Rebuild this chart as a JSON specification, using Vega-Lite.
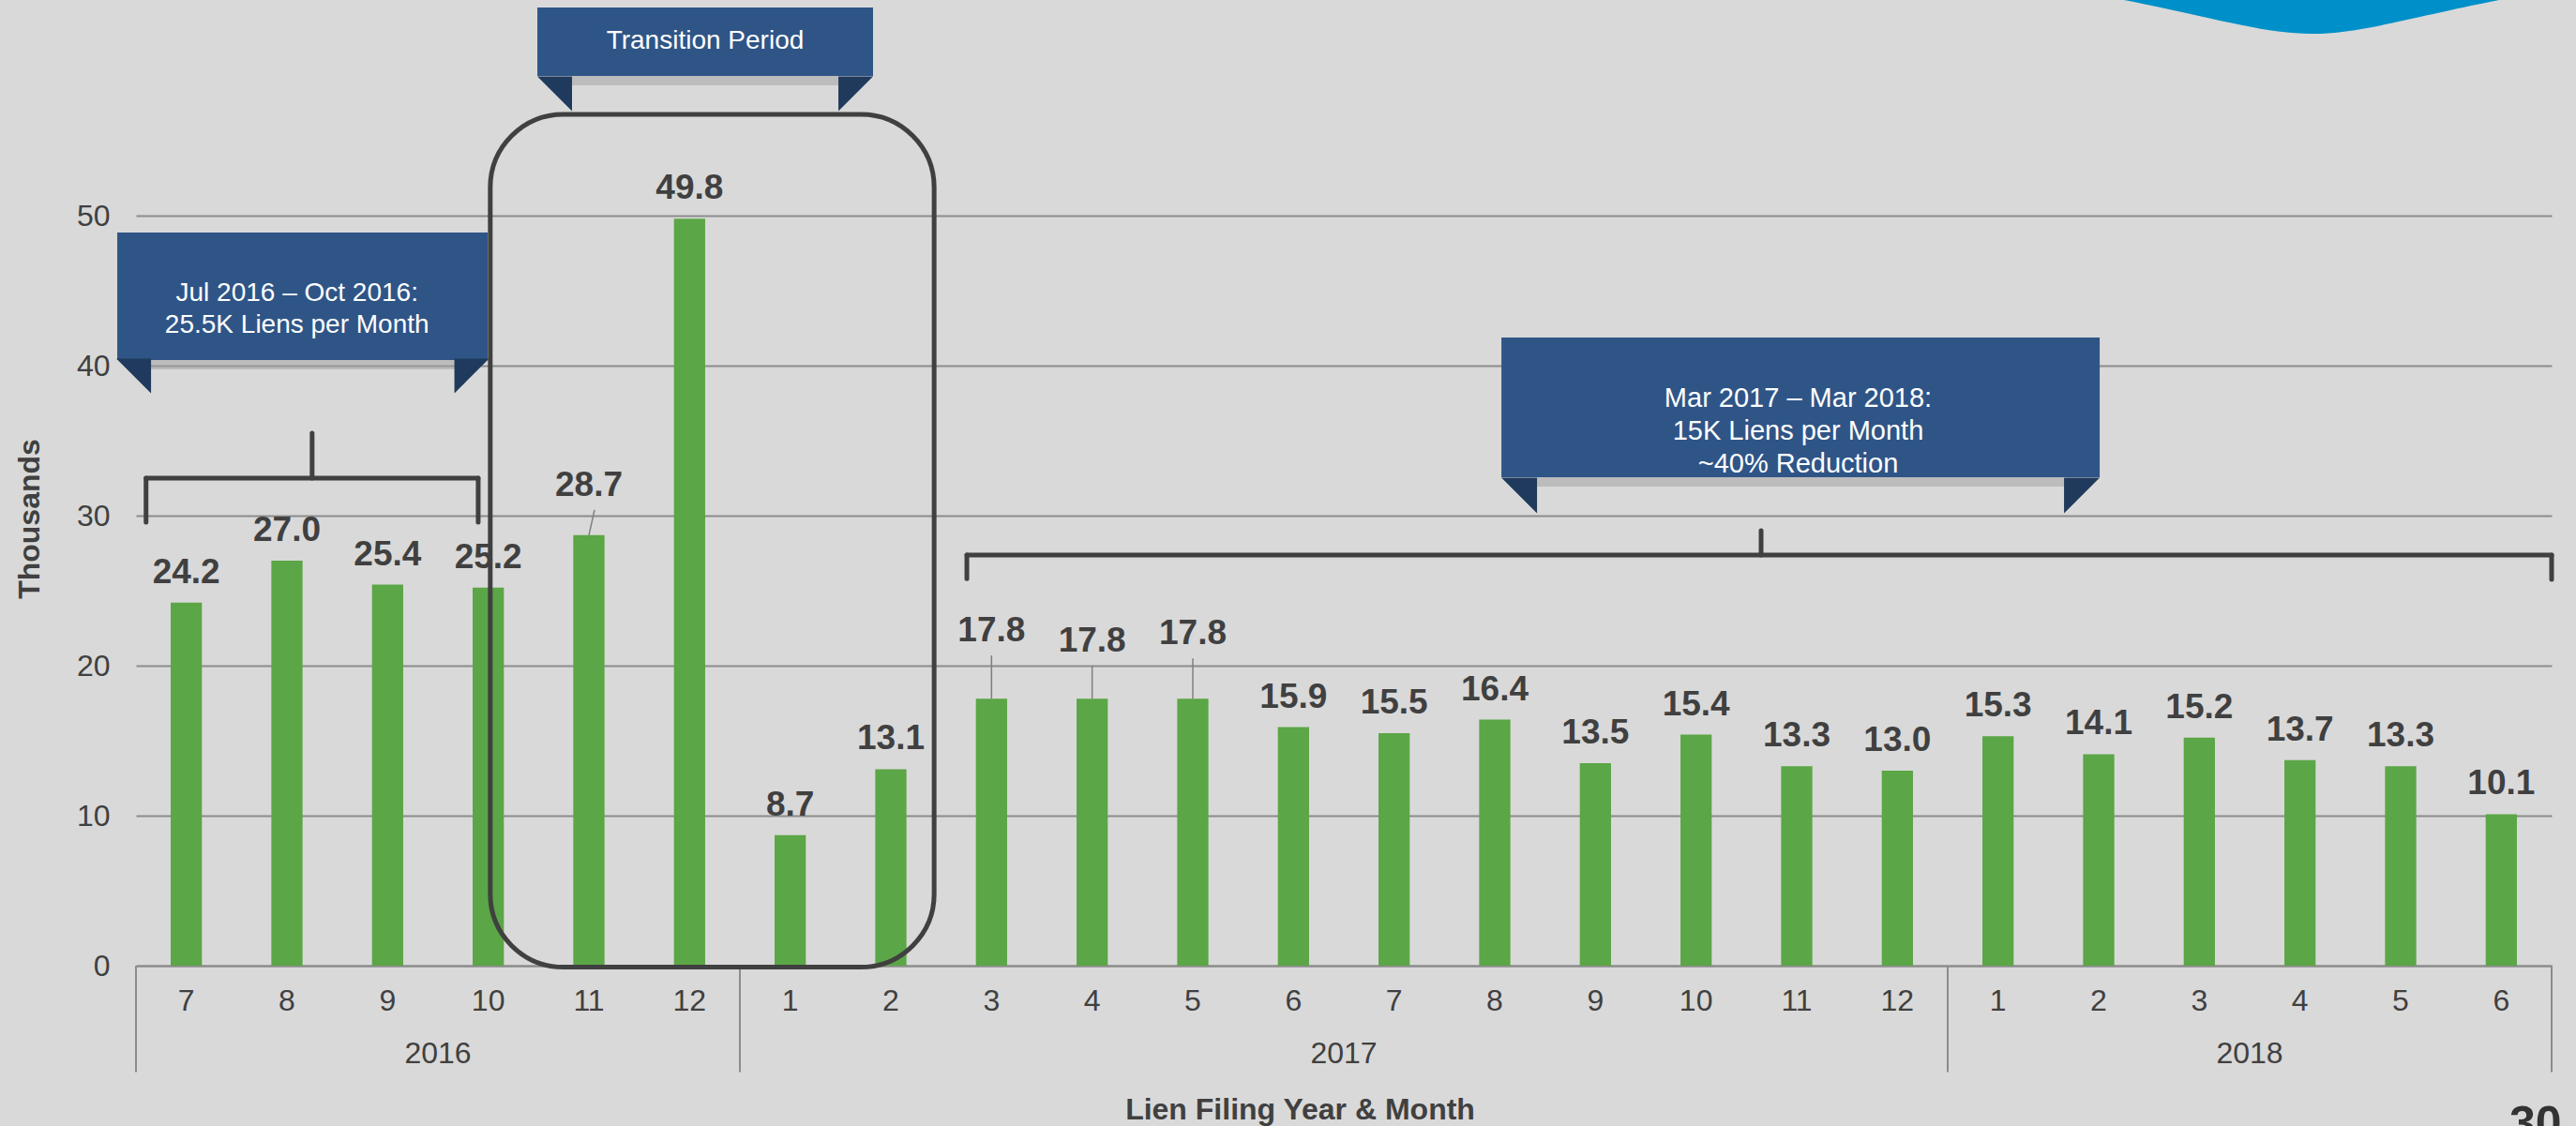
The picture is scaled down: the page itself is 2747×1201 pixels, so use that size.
{
  "$schema": "https://vega.github.io/schema/vega-lite/v6.json",
  "width": 2576,
  "height": 1000,
  "autosize": {"type": "none"},
  "padding": {"left": 145, "top": 30, "right": 26, "bottom": 171},
  "background": "#D9D9D9",
  "config": {"view": {"stroke": null}, "font": "Liberation Sans"},
  "datasets": {
    "liens": [
      {"key": "2016-07", "year": "2016", "month": 7, "value": 24.2},
      {"key": "2016-08", "year": "2016", "month": 8, "value": 27.0},
      {"key": "2016-09", "year": "2016", "month": 9, "value": 25.4},
      {"key": "2016-10", "year": "2016", "month": 10, "value": 25.2},
      {"key": "2016-11", "year": "2016", "month": 11, "value": 28.7},
      {"key": "2016-12", "year": "2016", "month": 12, "value": 49.8},
      {"key": "2017-01", "year": "2017", "month": 1, "value": 8.7},
      {"key": "2017-02", "year": "2017", "month": 2, "value": 13.1},
      {"key": "2017-03", "year": "2017", "month": 3, "value": 17.8},
      {"key": "2017-04", "year": "2017", "month": 4, "value": 17.8},
      {"key": "2017-05", "year": "2017", "month": 5, "value": 17.8},
      {"key": "2017-06", "year": "2017", "month": 6, "value": 15.9},
      {"key": "2017-07", "year": "2017", "month": 7, "value": 15.5},
      {"key": "2017-08", "year": "2017", "month": 8, "value": 16.4},
      {"key": "2017-09", "year": "2017", "month": 9, "value": 13.5},
      {"key": "2017-10", "year": "2017", "month": 10, "value": 15.4},
      {"key": "2017-11", "year": "2017", "month": 11, "value": 13.3},
      {"key": "2017-12", "year": "2017", "month": 12, "value": 13.0},
      {"key": "2018-01", "year": "2018", "month": 1, "value": 15.3},
      {"key": "2018-02", "year": "2018", "month": 2, "value": 14.1},
      {"key": "2018-03", "year": "2018", "month": 3, "value": 15.2},
      {"key": "2018-04", "year": "2018", "month": 4, "value": 13.7},
      {"key": "2018-05", "year": "2018", "month": 5, "value": 13.3},
      {"key": "2018-06", "year": "2018", "month": 6, "value": 10.1}
    ],
    "years": [
      {"year": "2016", "first": "2016-07", "mid": "2016-10"},
      {"year": "2017", "first": "2017-01", "mid": "2017-07"},
      {"year": "2018", "first": "2018-01", "mid": "2018-04"}
    ],
    "one": [{"n": 1}]
  },
  "data": {"name": "liens"},
  "layer": [
    {
      "mark": {"type": "bar", "color": "#5BA646", "width": {"band": 0.31}},
      "encoding": {
        "x": {
          "field": "key", "type": "nominal", "title": "Lien Filing Year & Month",
          "scale": {"type": "band", "paddingInner": 0, "paddingOuter": 0,
            "domain": ["2016-07","2016-08","2016-09","2016-10","2016-11","2016-12","2017-01","2017-02","2017-03","2017-04","2017-05","2017-06","2017-07","2017-08","2017-09","2017-10","2017-11","2017-12","2018-01","2018-02","2018-03","2018-04","2018-05","2018-06"]},
          "axis": {
            "labelExpr": "'' + toNumber(substring(datum.value, 5))",
            "labelAngle": 0, "labelFontSize": 32, "labelColor": "#404040", "labelPadding": 22,
            "ticks": false, "domainColor": "#8C8C8C", "domainWidth": 2, "grid": false,
            "titleFontSize": 32, "titleFontWeight": "bold", "titleColor": "#404040",
            "titleX": 1241, "titleY": 163, "titleBaseline": "alphabetic", "titleAlign": "center"
          }
        },
        "y": {
          "field": "value", "type": "quantitative", "title": "Thousands",
          "scale": {"domain": [0, 62.5], "nice": false},
          "axis": {
            "values": [0, 10, 20, 30, 40, 50], "domain": false, "ticks": false,
            "grid": true, "gridColor": "#8C8C8C", "gridWidth": 2,
            "labelFontSize": 32, "labelColor": "#404040", "labelPadding": 28,
            "titleFontSize": 32, "titleFontWeight": "bold", "titleColor": "#404040",
            "titleX": -114, "titleY": 523, "titleAngle": -90, "titleAlign": "center", "titleBaseline": "middle"
          }
        }
      }
    },
    {
      "transform": [{"filter": "datum.key === '2016-11'"}],
      "mark": {"type": "rule", "color": "#7F7F7F", "strokeWidth": 1.5, "y2Offset": -27, "x2Offset": 6},
      "encoding": {
        "x": {"field": "key", "type": "nominal"},
        "x2": {"field": "key", "bandPosition": 0.5},
        "y": {"field": "value", "type": "quantitative"},
        "y2": {"field": "value"}
      }
    },
    {
      "transform": [{"filter": "datum.key === '2017-03'"}],
      "mark": {"type": "rule", "color": "#7F7F7F", "strokeWidth": 1.5, "y2Offset": -46},
      "encoding": {"x": {"field": "key", "type": "nominal"}, "y": {"field": "value", "type": "quantitative"}, "y2": {"field": "value"}}
    },
    {
      "transform": [{"filter": "datum.key === '2017-04'"}],
      "mark": {"type": "rule", "color": "#7F7F7F", "strokeWidth": 1.5, "y2Offset": -35},
      "encoding": {"x": {"field": "key", "type": "nominal"}, "y": {"field": "value", "type": "quantitative"}, "y2": {"field": "value"}}
    },
    {
      "transform": [{"filter": "datum.key === '2017-05'"}],
      "mark": {"type": "rule", "color": "#7F7F7F", "strokeWidth": 1.5, "y2Offset": -43},
      "encoding": {"x": {"field": "key", "type": "nominal"}, "y": {"field": "value", "type": "quantitative"}, "y2": {"field": "value"}}
    },
    {
      "transform": [{"filter": "indexof(['2016-11','2017-03','2017-04','2017-05'], datum.key) < 0"}],
      "mark": {"type": "text", "dy": -32, "baseline": "middle", "fontSize": 37, "fontWeight": "bold", "color": "#404040"},
      "encoding": {"x": {"field": "key", "type": "nominal"}, "y": {"field": "value", "type": "quantitative"}, "text": {"field": "value", "type": "quantitative", "format": ".1f"}}
    },
    {
      "transform": [{"filter": "datum.key === '2016-11'"}],
      "mark": {"type": "text", "dy": -52.5, "baseline": "middle", "fontSize": 37, "fontWeight": "bold", "color": "#404040"},
      "encoding": {"x": {"field": "key", "type": "nominal"}, "y": {"field": "value", "type": "quantitative"}, "text": {"field": "value", "type": "quantitative", "format": ".1f"}}
    },
    {
      "transform": [{"filter": "datum.key === '2017-03'"}],
      "mark": {"type": "text", "dy": -72, "baseline": "middle", "fontSize": 37, "fontWeight": "bold", "color": "#404040"},
      "encoding": {"x": {"field": "key", "type": "nominal"}, "y": {"field": "value", "type": "quantitative"}, "text": {"field": "value", "type": "quantitative", "format": ".1f"}}
    },
    {
      "transform": [{"filter": "datum.key === '2017-04'"}],
      "mark": {"type": "text", "dy": -61.5, "baseline": "middle", "fontSize": 37, "fontWeight": "bold", "color": "#404040"},
      "encoding": {"x": {"field": "key", "type": "nominal"}, "y": {"field": "value", "type": "quantitative"}, "text": {"field": "value", "type": "quantitative", "format": ".1f"}}
    },
    {
      "transform": [{"filter": "datum.key === '2017-05'"}],
      "mark": {"type": "text", "dy": -69, "baseline": "middle", "fontSize": 37, "fontWeight": "bold", "color": "#404040"},
      "encoding": {"x": {"field": "key", "type": "nominal"}, "y": {"field": "value", "type": "quantitative"}, "text": {"field": "value", "type": "quantitative", "format": ".1f"}}
    },
    {
      "data": {"name": "years"},
      "mark": {"type": "rule", "color": "#8C8C8C", "strokeWidth": 2},
      "encoding": {"x": {"field": "first", "type": "nominal", "bandPosition": 0}, "y": {"datum": 0, "type": "quantitative"}, "y2": {"datum": -7.1}}
    },
    {
      "data": {"name": "one"},
      "mark": {"type": "rule", "color": "#8C8C8C", "strokeWidth": 2},
      "encoding": {"x": {"datum": "2018-06", "type": "nominal", "bandPosition": 1}, "y": {"datum": 0, "type": "quantitative"}, "y2": {"datum": -7.1}}
    },
    {
      "data": {"name": "years"},
      "mark": {"type": "text", "fontSize": 32, "color": "#404040", "baseline": "middle"},
      "encoding": {"x": {"field": "mid", "type": "nominal", "bandPosition": 0}, "y": {"datum": -5.85, "type": "quantitative"}, "text": {"field": "year", "type": "nominal"}}
    },
    {
      "data": {"name": "one"},
      "mark": {"type": "rect", "color": "#A0A0A0", "opacity": 0.5},
      "encoding": {"x": {"datum": "2016-07", "type": "nominal", "bandPosition": 0.14}, "x2": {"datum": "2016-10", "bandPosition": 0.177}, "y": {"datum": 40.375, "type": "quantitative"}, "y2": {"datum": 39.75}}
    },
    {
      "data": {"name": "one"},
      "mark": {"type": "rect", "color": "#A0A0A0", "opacity": 0.5},
      "encoding": {"x": {"datum": "2016-11", "type": "nominal", "bandPosition": 0.332}, "x2": {"datum": "2017-01", "bandPosition": 0.978}, "y": {"datum": 59.31, "type": "quantitative"}, "y2": {"datum": 58.69}}
    },
    {
      "data": {"name": "one"},
      "mark": {"type": "rect", "color": "#A0A0A0", "opacity": 0.5},
      "encoding": {"x": {"datum": "2017-08", "type": "nominal", "bandPosition": 0.92}, "x2": {"datum": "2018-02", "bandPosition": 0.156}, "y": {"datum": 32.56, "type": "quantitative"}, "y2": {"datum": 31.94}}
    },
    {
      "data": {"name": "one"},
      "mark": {"type": "rect", "color": "#2F5587"},
      "encoding": {"x": {"datum": "2016-07", "type": "nominal", "bandPosition": -0.186}, "x2": {"datum": "2016-10", "bandPosition": 0.494}, "y": {"datum": 48.875, "type": "quantitative"}, "y2": {"datum": 40.375}}
    },
    {
      "data": {"name": "one"},
      "mark": {"type": "rect", "color": "#2F5587"},
      "encoding": {"x": {"datum": "2016-10", "type": "nominal", "bandPosition": 0.988}, "x2": {"datum": "2017-02", "bandPosition": 0.323}, "y": {"datum": 63.875, "type": "quantitative"}, "y2": {"datum": 59.31}}
    },
    {
      "data": {"name": "one"},
      "mark": {"type": "rect", "color": "#2F5587"},
      "encoding": {"x": {"datum": "2017-08", "type": "nominal", "bandPosition": 0.566}, "x2": {"datum": "2018-02", "bandPosition": 0.51}, "y": {"datum": 41.875, "type": "quantitative"}, "y2": {"datum": 32.56}}
    },
    {
      "data": {"name": "one"},
      "mark": {"type": "point", "shape": "M -1 -1 L 1 -1 L 1 1 Z", "size": 1369, "filled": true, "color": "#1F3A5C", "opacity": 1},
      "encoding": {"x": {"datum": "2016-07", "type": "nominal", "bandPosition": -0.023}, "y": {"datum": 39.31, "type": "quantitative"}}
    },
    {
      "data": {"name": "one"},
      "mark": {"type": "point", "shape": "M -1 -1 L 1 -1 L -1 1 Z", "size": 1369, "filled": true, "color": "#1F3A5C", "opacity": 1},
      "encoding": {"x": {"datum": "2016-10", "type": "nominal", "bandPosition": 0.336}, "y": {"datum": 39.31, "type": "quantitative"}}
    },
    {
      "data": {"name": "one"},
      "mark": {"type": "point", "shape": "M -1 -1 L 1 -1 L 1 1 Z", "size": 1369, "filled": true, "color": "#1F3A5C", "opacity": 1},
      "encoding": {"x": {"datum": "2016-11", "type": "nominal", "bandPosition": 0.16}, "y": {"datum": 58.125, "type": "quantitative"}}
    },
    {
      "data": {"name": "one"},
      "mark": {"type": "point", "shape": "M -1 -1 L 1 -1 L -1 1 Z", "size": 1369, "filled": true, "color": "#1F3A5C", "opacity": 1},
      "encoding": {"x": {"datum": "2017-02", "type": "nominal", "bandPosition": 0.151}, "y": {"datum": 58.125, "type": "quantitative"}}
    },
    {
      "data": {"name": "one"},
      "mark": {"type": "point", "shape": "M -1 -1 L 1 -1 L 1 1 Z", "size": 1444, "filled": true, "color": "#1F3A5C", "opacity": 1},
      "encoding": {"x": {"datum": "2017-08", "type": "nominal", "bandPosition": 0.743}, "y": {"datum": 31.34, "type": "quantitative"}}
    },
    {
      "data": {"name": "one"},
      "mark": {"type": "point", "shape": "M -1 -1 L 1 -1 L -1 1 Z", "size": 1444, "filled": true, "color": "#1F3A5C", "opacity": 1},
      "encoding": {"x": {"datum": "2018-02", "type": "nominal", "bandPosition": 0.333}, "y": {"datum": 31.34, "type": "quantitative"}}
    },
    {
      "data": {"name": "one"},
      "mark": {"type": "text", "text": ["Jul 2016 – Oct 2016:", "25.5K Liens per Month"], "fontSize": 28, "lineHeight": 33.5, "color": "#FFFFFF", "align": "center", "baseline": "middle"},
      "encoding": {"x": {"datum": "2016-08", "type": "nominal", "bandPosition": 0.6}, "y": {"datum": 44.81, "type": "quantitative"}}
    },
    {
      "data": {"name": "one"},
      "mark": {"type": "text", "text": "Transition Period", "fontSize": 28, "color": "#FFFFFF", "align": "center", "baseline": "middle"},
      "encoding": {"x": {"datum": "2016-12", "type": "nominal", "bandPosition": 0.655}, "y": {"datum": 61.625, "type": "quantitative"}}
    },
    {
      "data": {"name": "one"},
      "mark": {"type": "text", "text": ["Mar 2017 – Mar 2018:", "15K Liens per Month", "~40% Reduction"], "fontSize": 29, "lineHeight": 35, "color": "#FFFFFF", "align": "center", "baseline": "middle"},
      "encoding": {"x": {"datum": "2017-11", "type": "nominal", "bandPosition": 0.514}, "y": {"datum": 37.81, "type": "quantitative"}}
    },
    {
      "data": {"name": "one"},
      "mark": {"type": "rule", "color": "#404040", "strokeWidth": 5, "strokeCap": "round"},
      "encoding": {"x": {"datum": "2016-07", "type": "nominal", "bandPosition": 0.1}, "y": {"datum": 29.56, "type": "quantitative"}, "y2": {"datum": 32.5}}
    },
    {
      "data": {"name": "one"},
      "mark": {"type": "rule", "color": "#404040", "strokeWidth": 5, "strokeCap": "round"},
      "encoding": {"x": {"datum": "2016-07", "type": "nominal", "bandPosition": 0.1}, "x2": {"datum": "2016-10", "bandPosition": 0.4}, "y": {"datum": 32.5, "type": "quantitative"}}
    },
    {
      "data": {"name": "one"},
      "mark": {"type": "rule", "color": "#404040", "strokeWidth": 5, "strokeCap": "round"},
      "encoding": {"x": {"datum": "2016-08", "type": "nominal", "bandPosition": 0.75}, "y": {"datum": 32.5, "type": "quantitative"}, "y2": {"datum": 35.5}}
    },
    {
      "data": {"name": "one"},
      "mark": {"type": "rule", "color": "#404040", "strokeWidth": 5, "strokeCap": "round"},
      "encoding": {"x": {"datum": "2016-10", "type": "nominal", "bandPosition": 0.4}, "y": {"datum": 29.56, "type": "quantitative"}, "y2": {"datum": 32.5}}
    },
    {
      "data": {"name": "one"},
      "mark": {"type": "rule", "color": "#404040", "strokeWidth": 5, "strokeCap": "round"},
      "encoding": {"x": {"datum": "2017-03", "type": "nominal", "bandPosition": 0.255}, "y": {"datum": 25.8, "type": "quantitative"}, "y2": {"datum": 27.375}}
    },
    {
      "data": {"name": "one"},
      "mark": {"type": "rule", "color": "#404040", "strokeWidth": 5, "strokeCap": "round"},
      "encoding": {"x": {"datum": "2017-03", "type": "nominal", "bandPosition": 0.255}, "x2": {"datum": "2018-06", "bandPosition": 1}, "y": {"datum": 27.375, "type": "quantitative"}}
    },
    {
      "data": {"name": "one"},
      "mark": {"type": "rule", "color": "#404040", "strokeWidth": 5, "strokeCap": "round"},
      "encoding": {"x": {"datum": "2017-11", "type": "nominal", "bandPosition": 0.146}, "y": {"datum": 27.375, "type": "quantitative"}, "y2": {"datum": 29.0}}
    },
    {
      "data": {"name": "one"},
      "mark": {"type": "rule", "color": "#404040", "strokeWidth": 5, "strokeCap": "round"},
      "encoding": {"x": {"datum": "2018-06", "type": "nominal", "bandPosition": 1}, "y": {"datum": 25.75, "type": "quantitative"}, "y2": {"datum": 27.375}}
    },
    {
      "data": {"name": "one"},
      "mark": {"type": "rect", "filled": false, "color": "#404040", "strokeWidth": 5, "cornerRadius": 78},
      "encoding": {"x": {"datum": "2016-10", "type": "nominal", "bandPosition": 0.52}, "x2": {"datum": "2017-02", "bandPosition": 0.93}, "y": {"datum": 56.75, "type": "quantitative"}, "y2": {"datum": -0.1}}
    },
    {
      "data": {"name": "one"},
      "mark": {"type": "point", "shape": "M -1 0 C -0.5 0.1 -0.25 0.18 0 0.18 C 0.25 0.18 0.5 0.1 1 0 L 1 -0.3 L -1 -0.3 Z", "size": 160000, "filled": true, "color": "#0090C9", "opacity": 1, "strokeWidth": 0},
      "encoding": {"x": {"datum": "2018-04", "type": "nominal", "bandPosition": 0.615}, "y": {"datum": 64.375, "type": "quantitative"}}
    },
    {
      "data": {"name": "one"},
      "mark": {"type": "text", "text": "30", "fontSize": 50, "fontWeight": "bold", "color": "#333333", "align": "center", "baseline": "alphabetic"},
      "encoding": {"x": {"datum": "2018-06", "type": "nominal", "bandPosition": 0.84}, "y": {"datum": -11.56, "type": "quantitative"}}
    }
  ]
}
